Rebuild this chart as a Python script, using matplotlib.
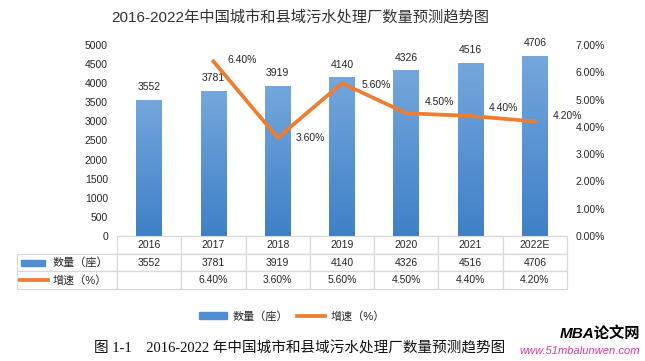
import numpy as np
import matplotlib
matplotlib.use("Agg")
import matplotlib.pyplot as plt
from matplotlib.patches import Rectangle
from matplotlib.lines import Line2D
from matplotlib.ticker import FuncFormatter

plt.rcParams["font.family"] = ["Liberation Sans", "Noto Sans CJK SC", "DejaVu Sans"]

years = ["2016", "2017", "2018", "2019", "2020", "2021", "2022E"]
counts = [3552, 3781, 3919, 4140, 4326, 4516, 4706]
growth = [None, 6.40, 3.60, 5.60, 4.50, 4.40, 4.20]
row_names = ["数量（座）", "增速（%）"]

bar_top = "#74a7dc"
bar_bottom = "#3f80c8"
line_color = "#ed7d31"
grid_gray = "#d9d9d9"
text_color = "#262626"

W, H = 645, 361
fig = plt.figure(figsize=(6.45, 3.61), dpi=100)
ax_l, ax_r, ax_t, ax_b = 117, 567, 45, 236
ax = fig.add_axes([ax_l / W, 1 - ax_b / H, (ax_r - ax_l) / W, (ax_b - ax_t) / H])

x = np.arange(len(years))
bar_w = 0.40

# gradient bars
grad = np.linspace(0, 1, 256).reshape(-1, 1)
cmap = matplotlib.colors.LinearSegmentedColormap.from_list("bar", [bar_bottom, bar_top])
for xi, v in zip(x, counts):
    ax.imshow(grad, cmap=cmap, origin="lower", aspect="auto",
              extent=[xi - bar_w / 2, xi + bar_w / 2, 0, v], zorder=2)
    ax.annotate(str(v), (xi, v), xytext=(0, 9.5), textcoords="offset points",
                ha="center", va="center", fontsize=7.5, color=text_color)

ax.set_xlim(-0.5, len(years) - 0.5)
ax.set_ylim(0, 5000)
ax.set_yticks(np.arange(0, 5001, 500))
ax.set_xticks([])
ax.tick_params(axis="y", length=0, pad=6.5, labelsize=7.5, labelcolor=text_color)
for s in ["top", "right", "left"]:
    ax.spines[s].set_visible(False)
ax.spines["bottom"].set_color(grid_gray)

# growth line on secondary axis
ax2 = ax.twinx()
gx = [xi for xi, g in zip(x, growth) if g is not None]
gy = [g / 100 for g in growth if g is not None]
ax2.plot(gx, gy, color=line_color, lw=2.7, solid_joinstyle="miter", zorder=3)
ax2.set_ylim(0, 0.07)
ax2.set_yticks(np.arange(0, 0.0701, 0.01))
ax2.yaxis.set_major_formatter(FuncFormatter(lambda v, p: f"{v * 100:.2f}%"))
ax2.tick_params(axis="y", length=0, pad=6, labelsize=7.5, labelcolor=text_color)
for s in ax2.spines.values():
    s.set_visible(False)

label_offsets = {1: (10, 1), 2: (13, 0), 3: (14, -1), 4: (13, 8), 5: (13, 6), 6: (13, 4)}
for xi, g in zip(x, growth):
    if g is None:
        continue
    dx, dy = label_offsets[xi]
    ax2.annotate(f"{g:.2f}%", (xi, g / 100), xytext=(dx, dy), textcoords="offset points",
                 ha="left", va="center", fontsize=7.5, color=text_color)

# data table under the plot
tab_left, tab_bottom = 17, 289
col0_w = ax_l - tab_left
col_w = (ax_r - ax_l) / len(years)
cell_text = [[""] + years,
             [""] + [str(c) for c in counts],
             [""] + ["" if g is None else f"{g:.2f}%" for g in growth]]
tot_w = ax_r - tab_left
table = ax.table(cellText=cell_text,
                 colWidths=[col0_w / tot_w] + [col_w / tot_w] * len(years),
                 cellLoc="center",
                 bbox=[(tab_left - ax_l) / (ax_r - ax_l), -(tab_bottom - ax_b) / (ax_b - ax_t),
                       tot_w / (ax_r - ax_l), (tab_bottom - ax_b) / (ax_b - ax_t)])
table.auto_set_font_size(False)
table.set_fontsize(7.5)
for (r, c), cell in table.get_celld().items():
    cell.set_edgecolor(grid_gray)
    cell.set_linewidth(0.9)
    cell.get_text().set_color(text_color)
    if r == 0 and c == 0:
        cell.set_edgecolor("none")
        cell.set_facecolor("none")

# legend keys in table row labels
row_h = (tab_bottom - ax_b) / 3
for i, name in enumerate(row_names):
    yc = ax_b + row_h * (i + 1.5)
    fy = 1 - yc / H
    if i == 0:
        fig.patches.append(Rectangle((21 / W, fy - 3 / H), 24 / W, 6 / H,
                                     transform=fig.transFigure, color="#4f8ed2"))
    else:
        fig.lines.append(Line2D([20 / W, 48 / W], [fy, fy], transform=fig.transFigure,
                                color=line_color, lw=2.7))
    fig.text(53 / W, fy, name, ha="left", va="center", fontsize=8, color=text_color)

# bottom legend
handles = [Rectangle((0, 0), 1, 1, color="#4f8ed2"),
           Line2D([0], [0], color=line_color, lw=2.7)]
fig.legend(handles, row_names, loc="center", bbox_to_anchor=(292 / W, 1 - 316 / H),
           ncol=2, frameon=False, fontsize=8, handlelength=2.5, handleheight=0.7,
           columnspacing=0.8, handletextpad=0.5, labelcolor=text_color)

fig.text(300 / W, 1 - 17 / H, "2016-2022年中国城市和县域污水处理厂数量预测趋势图",
         ha="center", va="center", fontsize=11, color="#333333")
fig.text(300 / W, 1 - 348 / H, "图 1-1    2016-2022 年中国城市和县域污水处理厂数量预测趋势图",
         ha="center", va="center", fontsize=10.5, color="#111111",
         family=["Liberation Serif", "Noto Sans CJK SC"])
fig.text(640 / W, 1 - 333 / H, "MBA论文网", ha="right", va="center", fontsize=11,
         fontweight="bold", fontstyle="italic", color="black")
fig.text(640 / W, 1 - 351 / H, "www.51mbalunwen.com", ha="right", va="center",
         fontsize=8, fontstyle="italic", color="#d63aa0")

fig.savefig("out.png", dpi=100)
